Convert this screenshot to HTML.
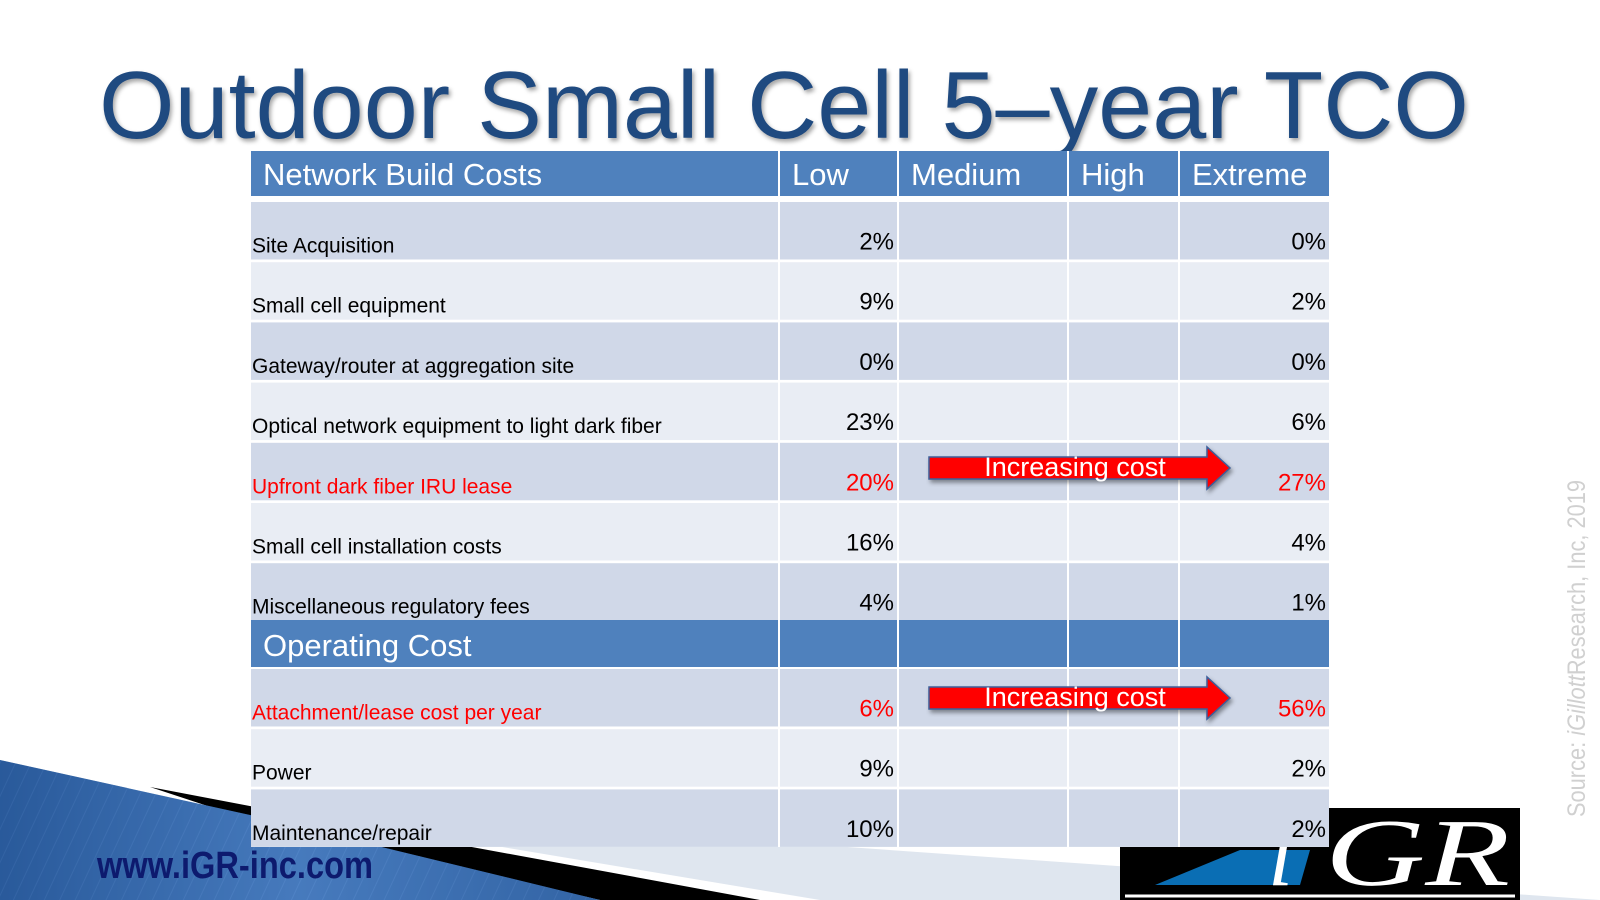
<!DOCTYPE html>
<html><head><meta charset="utf-8"><style>
body{margin:0;width:1600px;height:900px;overflow:hidden;background:#fff;font-family:"Liberation Sans",sans-serif}
svg{position:absolute;left:0;top:0}
</style></head><body>
<svg id="s" width="1600" height="900" viewBox="0 0 1600 900">
<defs>
<pattern id="hatch" width="14" height="14" patternUnits="userSpaceOnUse" patternTransform="rotate(25)">
<rect width="14" height="14" fill="#3f6fb0"/><line x1="0" y1="0" x2="0" y2="14" stroke="#5a88c8" stroke-width="2"/></pattern>
<linearGradient id="bg" x1="0" y1="0" x2="1" y2="0"><stop offset="0" stop-color="#1d4e8f"/><stop offset="0.5" stop-color="#4a80c4"/><stop offset="1" stop-color="#2c5e9e"/></linearGradient>
</defs>
<g>
<polygon points="250,805 1600,900 820,900" fill="#dfe6ef"/>
<polygon points="150,787 260,808 760,900 600,900 250,820" fill="#000"/>
<polygon points="0,760 250,815 600,900 0,900" fill="url(#bg)"/>
<polygon points="0,760 250,815 600,900 0,900" fill="url(#hatch)" opacity="0.35"/>
</g>
<text x="97" y="878" font-size="38" font-weight="bold" fill="#0d1a6e" textLength="276" lengthAdjust="spacingAndGlyphs">www.iGR-inc.com</text>
<text x="99" y="138" font-size="96" fill="#1f4a80" textLength="1370" lengthAdjust="spacingAndGlyphs" style="filter:drop-shadow(2px 3px 2px rgba(0,0,0,0.35))">Outdoor Small Cell 5–year TCO</text>
<g>
<rect x="1120" y="808" width="400" height="92" fill="#000"/>
<polygon points="1155,885 1240,850 1310,850 1300,885" fill="#0a6eb4"/>
<text x="1268" y="885" font-family="Liberation Serif" font-style="italic" font-size="90" fill="#fff">i</text>
<text x="1325" y="885" font-family="Liberation Serif" font-size="96" fill="#fff" font-style="italic" textLength="185" lengthAdjust="spacingAndGlyphs">GR</text>
<line x1="1125" y1="896" x2="1515" y2="896" stroke="#fff" stroke-width="3"/>
</g>
<rect x="251" y="151" width="1078" height="696" fill="#fff"/>
<g id="tbl"></g>
<text transform="translate(1585,817) rotate(-90)" font-size="25" fill="#d0d0d0" textLength="337" lengthAdjust="spacingAndGlyphs">Source: <tspan font-style="italic">iGillott</tspan>Research, Inc, 2019</text>
</svg>
<script>
const headers=["Network Build Costs","Low","Medium","High","Extreme"];
const buildLabels=["Site Acquisition","Small cell equipment","Gateway/router at aggregation site","Optical network equipment to light dark fiber","Upfront dark fiber IRU lease","Small cell installation costs","Miscellaneous regulatory fees"];
const buildLow=[2,9,0,23,20,16,4];
const buildExtreme=[0,2,0,6,27,4,1];
const buildRed=[false,false,false,false,true,false,false];
const opLabels=["Attachment/lease cost per year","Power","Maintenance/repair"];
const opLow=[6,9,10];
const opExtreme=[56,2,2];
const opRed=[true,false,false];
const NS="http://www.w3.org/2000/svg";
const g=document.getElementById('tbl');
const colX=[251,780,899,1069,1180,1329];
function mk(t,a,p){const e=document.createElementNS(NS,t);for(const k in a)e.setAttribute(k,a[k]);(p||g).appendChild(e);return e;}
function headerRow(y,h,texts,name){
 for(let c=0;c<5;c++){
  const r=mk('rect',{x:colX[c],y:y,width:colX[c+1]-colX[c]-(c<4?2:0),height:h,fill:'#4f81bd'});
  
  
  if(texts[c]){const t=mk('text',{x:colX[c]+12,y:y+h-11,'font-size':31,fill:'#fff'});t.textContent=texts[c];
   
   }
 }
}
function dataRow(y,h,label,low,ext,red,dark){
 const fill=dark?'#d0d8e8':'#e9edf4';
 for(let c=0;c<5;c++){const r=mk('rect',{x:colX[c],y:y,width:colX[c+1]-colX[c]-(c<4?2:0),height:h,fill:fill});
  
  }
 const col=red?'#ff0000':'#000';
 const t=mk('text',{x:colX[0]+1,y:y+h-7,'font-size':21,fill:col});t.textContent=label;
 
 
 const a=mk('text',{x:colX[2]-5,y:y+h-10,'font-size':24,fill:col,'text-anchor':'end'});a.textContent=low+'%';
 
 
 const b=mk('text',{x:colX[5]-3,y:y+h-10,'font-size':24,fill:col,'text-anchor':'end'});b.textContent=ext+'%';
 
 
}
function arrow(cy){
 const a=mk('g',{});
 
 
 mk('polygon',{points:`929,${cy-11} 1207,${cy-11} 1207,${cy-21} 1230,${cy} 1207,${cy+21} 1207,${cy+11} 929,${cy+11}`,fill:'#ff0000',stroke:'#3d5f9a','stroke-width':1.5,style:'filter:drop-shadow(2px 3px 2px rgba(0,0,0,0.4))'},a);
 const t=mk('text',{x:1075,y:cy+8,'font-size':27,fill:'#fff','text-anchor':'middle'},a);t.textContent='Increasing cost';
}
headerRow(151,45,headers,'build-header');
const rh=60.2;
for(let i=0;i<buildLabels.length;i++){dataRow(202+i*rh,57.5,buildLabels[i],buildLow[i],buildExtreme[i],buildRed[i],i%2==0);}
headerRow(620,47,["Operating Cost","","","",""],'operating-header');
for(let i=0;i<opLabels.length;i++){dataRow(669+i*rh,57.5,opLabels[i],opLow[i],opExtreme[i],opRed[i],i%2==0);}
arrow(468);
arrow(698);
</script>
</body></html>
